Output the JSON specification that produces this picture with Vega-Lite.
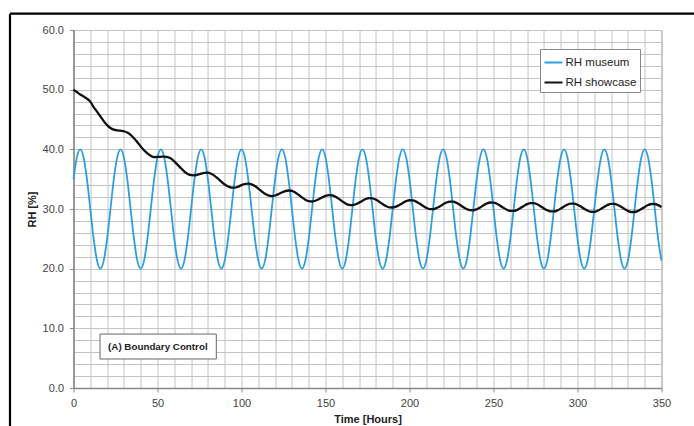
{
  "$schema": "https://vega.github.io/schema/vega-lite/v6.json",
  "width": 588,
  "height": 358,
  "autosize": {"type": "none"},
  "padding": {"left": 73.5, "top": 30, "right": 32.5, "bottom": 38},
  "background": "white",
  "config": {
    "font": "Liberation Sans",
    "view": {"stroke": "#9a9a9a", "strokeWidth": 1}
  },
  "datasets": {
    "museum": [
      {"hour":0,"rh":35},{"hour":2,"rh":38.66},{"hour":4,"rh":40},{"hour":6,"rh":38.66},{"hour":8,"rh":35},{"hour":10,"rh":30},{"hour":12,"rh":25},{"hour":14,"rh":21.34},{"hour":16,"rh":20},{"hour":18,"rh":21.34},{"hour":20,"rh":25},{"hour":22,"rh":30},
      {"hour":24,"rh":35},{"hour":26,"rh":38.66},{"hour":28,"rh":40},{"hour":30,"rh":38.66},{"hour":32,"rh":35},{"hour":34,"rh":30},{"hour":36,"rh":25},{"hour":38,"rh":21.34},{"hour":40,"rh":20},{"hour":42,"rh":21.34},{"hour":44,"rh":25},{"hour":46,"rh":30},
      {"hour":48,"rh":35},{"hour":50,"rh":38.66},{"hour":52,"rh":40},{"hour":54,"rh":38.66},{"hour":56,"rh":35},{"hour":58,"rh":30},{"hour":60,"rh":25},{"hour":62,"rh":21.34},{"hour":64,"rh":20},{"hour":66,"rh":21.34},{"hour":68,"rh":25},{"hour":70,"rh":30},
      {"hour":72,"rh":35},{"hour":74,"rh":38.66},{"hour":76,"rh":40},{"hour":78,"rh":38.66},{"hour":80,"rh":35},{"hour":82,"rh":30},{"hour":84,"rh":25},{"hour":86,"rh":21.34},{"hour":88,"rh":20},{"hour":90,"rh":21.34},{"hour":92,"rh":25},{"hour":94,"rh":30},
      {"hour":96,"rh":35},{"hour":98,"rh":38.66},{"hour":100,"rh":40},{"hour":102,"rh":38.66},{"hour":104,"rh":35},{"hour":106,"rh":30},{"hour":108,"rh":25},{"hour":110,"rh":21.34},{"hour":112,"rh":20},{"hour":114,"rh":21.34},{"hour":116,"rh":25},{"hour":118,"rh":30},
      {"hour":120,"rh":35},{"hour":122,"rh":38.66},{"hour":124,"rh":40},{"hour":126,"rh":38.66},{"hour":128,"rh":35},{"hour":130,"rh":30},{"hour":132,"rh":25},{"hour":134,"rh":21.34},{"hour":136,"rh":20},{"hour":138,"rh":21.34},{"hour":140,"rh":25},{"hour":142,"rh":30},
      {"hour":144,"rh":35},{"hour":146,"rh":38.66},{"hour":148,"rh":40},{"hour":150,"rh":38.66},{"hour":152,"rh":35},{"hour":154,"rh":30},{"hour":156,"rh":25},{"hour":158,"rh":21.34},{"hour":160,"rh":20},{"hour":162,"rh":21.34},{"hour":164,"rh":25},{"hour":166,"rh":30},
      {"hour":168,"rh":35},{"hour":170,"rh":38.66},{"hour":172,"rh":40},{"hour":174,"rh":38.66},{"hour":176,"rh":35},{"hour":178,"rh":30},{"hour":180,"rh":25},{"hour":182,"rh":21.34},{"hour":184,"rh":20},{"hour":186,"rh":21.34},{"hour":188,"rh":25},{"hour":190,"rh":30},
      {"hour":192,"rh":35},{"hour":194,"rh":38.66},{"hour":196,"rh":40},{"hour":198,"rh":38.66},{"hour":200,"rh":35},{"hour":202,"rh":30},{"hour":204,"rh":25},{"hour":206,"rh":21.34},{"hour":208,"rh":20},{"hour":210,"rh":21.34},{"hour":212,"rh":25},{"hour":214,"rh":30},
      {"hour":216,"rh":35},{"hour":218,"rh":38.66},{"hour":220,"rh":40},{"hour":222,"rh":38.66},{"hour":224,"rh":35},{"hour":226,"rh":30},{"hour":228,"rh":25},{"hour":230,"rh":21.34},{"hour":232,"rh":20},{"hour":234,"rh":21.34},{"hour":236,"rh":25},{"hour":238,"rh":30},
      {"hour":240,"rh":35},{"hour":242,"rh":38.66},{"hour":244,"rh":40},{"hour":246,"rh":38.66},{"hour":248,"rh":35},{"hour":250,"rh":30},{"hour":252,"rh":25},{"hour":254,"rh":21.34},{"hour":256,"rh":20},{"hour":258,"rh":21.34},{"hour":260,"rh":25},{"hour":262,"rh":30},
      {"hour":264,"rh":35},{"hour":266,"rh":38.66},{"hour":268,"rh":40},{"hour":270,"rh":38.66},{"hour":272,"rh":35},{"hour":274,"rh":30},{"hour":276,"rh":25},{"hour":278,"rh":21.34},{"hour":280,"rh":20},{"hour":282,"rh":21.34},{"hour":284,"rh":25},{"hour":286,"rh":30},
      {"hour":288,"rh":35},{"hour":290,"rh":38.66},{"hour":292,"rh":40},{"hour":294,"rh":38.66},{"hour":296,"rh":35},{"hour":298,"rh":30},{"hour":300,"rh":25},{"hour":302,"rh":21.34},{"hour":304,"rh":20},{"hour":306,"rh":21.34},{"hour":308,"rh":25},{"hour":310,"rh":30},
      {"hour":312,"rh":35},{"hour":314,"rh":38.66},{"hour":316,"rh":40},{"hour":318,"rh":38.66},{"hour":320,"rh":35},{"hour":322,"rh":30},{"hour":324,"rh":25},{"hour":326,"rh":21.34},{"hour":328,"rh":20},{"hour":330,"rh":21.34},{"hour":332,"rh":25},{"hour":334,"rh":30},
      {"hour":336,"rh":35},{"hour":338,"rh":38.66},{"hour":340,"rh":40},{"hour":342,"rh":38.66},{"hour":344,"rh":35},{"hour":346,"rh":30},{"hour":348,"rh":25},{"hour":350,"rh":21.34}
    ],
    "showcase": [
      {"hour":0,"rh":50.0},{"hour":2,"rh":49.6},{"hour":4,"rh":49.2},{"hour":6,"rh":48.85},{"hour":8,"rh":48.5},{"hour":10,"rh":48.0},{"hour":12,"rh":47.07},{"hour":14,"rh":46.32},{"hour":16,"rh":45.53},{"hour":18,"rh":44.72},{"hour":20,"rh":44.05},{"hour":22,"rh":43.58},
      {"hour":24,"rh":43.31},{"hour":26,"rh":43.18},{"hour":28,"rh":43.12},{"hour":30,"rh":43.03},{"hour":32,"rh":42.81},{"hour":34,"rh":42.43},{"hour":36,"rh":41.87},{"hour":38,"rh":41.2},{"hour":40,"rh":40.49},{"hour":42,"rh":39.84},{"hour":44,"rh":39.34},{"hour":46,"rh":38.92},
      {"hour":48,"rh":38.7},{"hour":50,"rh":38.72},{"hour":52,"rh":38.75},{"hour":54,"rh":38.79},{"hour":56,"rh":38.7},{"hour":58,"rh":38.45},{"hour":60,"rh":37.97},{"hour":62,"rh":37.41},{"hour":64,"rh":36.82},{"hour":66,"rh":36.28},{"hour":68,"rh":35.88},{"hour":70,"rh":35.67},
      {"hour":72,"rh":35.65},{"hour":74,"rh":35.77},{"hour":76,"rh":35.94},{"hour":78,"rh":36.07},{"hour":80,"rh":36.08},{"hour":82,"rh":35.9},{"hour":84,"rh":35.56},{"hour":86,"rh":35.08},{"hour":88,"rh":34.57},{"hour":90,"rh":34.1},{"hour":92,"rh":33.78},{"hour":94,"rh":33.59},
      {"hour":96,"rh":33.58},{"hour":98,"rh":33.76},{"hour":100,"rh":34.0},{"hour":102,"rh":34.19},{"hour":104,"rh":34.25},{"hour":106,"rh":34.14},{"hour":108,"rh":33.85},{"hour":110,"rh":33.42},{"hour":112,"rh":32.96},{"hour":114,"rh":32.54},{"hour":116,"rh":32.27},{"hour":118,"rh":32.17},
      {"hour":120,"rh":32.26},{"hour":122,"rh":32.49},{"hour":124,"rh":32.77},{"hour":126,"rh":33.0},{"hour":128,"rh":33.1},{"hour":130,"rh":33.02},{"hour":132,"rh":32.77},{"hour":134,"rh":32.38},{"hour":136,"rh":31.95},{"hour":138,"rh":31.57},{"hour":140,"rh":31.32},{"hour":142,"rh":31.26},
      {"hour":144,"rh":31.38},{"hour":146,"rh":31.64},{"hour":148,"rh":31.94},{"hour":150,"rh":32.2},{"hour":152,"rh":32.33},{"hour":154,"rh":32.28},{"hour":156,"rh":32.05},{"hour":158,"rh":31.69},{"hour":160,"rh":31.28},{"hour":162,"rh":30.92},{"hour":164,"rh":30.69},{"hour":166,"rh":30.65},
      {"hour":168,"rh":30.79},{"hour":170,"rh":31.07},{"hour":172,"rh":31.39},{"hour":174,"rh":31.67},{"hour":176,"rh":31.81},{"hour":178,"rh":31.78},{"hour":180,"rh":31.57},{"hour":182,"rh":31.22},{"hour":184,"rh":30.83},{"hour":186,"rh":30.48},{"hour":188,"rh":30.27},{"hour":190,"rh":30.25},
      {"hour":192,"rh":30.4},{"hour":194,"rh":30.69},{"hour":196,"rh":31.02},{"hour":198,"rh":31.31},{"hour":200,"rh":31.47},{"hour":202,"rh":31.45},{"hour":204,"rh":31.24},{"hour":206,"rh":30.91},{"hour":208,"rh":30.53},{"hour":210,"rh":30.19},{"hour":212,"rh":29.99},{"hour":214,"rh":29.97},
      {"hour":216,"rh":30.14},{"hour":218,"rh":30.43},{"hour":220,"rh":30.78},{"hour":222,"rh":31.08},{"hour":224,"rh":31.24},{"hour":226,"rh":31.23},{"hour":228,"rh":31.03},{"hour":230,"rh":30.7},{"hour":232,"rh":30.33},{"hour":234,"rh":30.0},{"hour":236,"rh":29.8},{"hour":238,"rh":29.79},
      {"hour":240,"rh":29.96},{"hour":242,"rh":30.26},{"hour":244,"rh":30.61},{"hour":246,"rh":30.92},{"hour":248,"rh":31.09},{"hour":250,"rh":31.08},{"hour":252,"rh":30.89},{"hour":254,"rh":30.56},{"hour":256,"rh":30.19},{"hour":258,"rh":29.87},{"hour":260,"rh":29.68},{"hour":262,"rh":29.67},
      {"hour":264,"rh":29.84},{"hour":266,"rh":30.15},{"hour":268,"rh":30.5},{"hour":270,"rh":30.81},{"hour":272,"rh":30.98},{"hour":274,"rh":30.98},{"hour":276,"rh":30.79},{"hour":278,"rh":30.47},{"hour":280,"rh":30.1},{"hour":282,"rh":29.78},{"hour":284,"rh":29.59},{"hour":286,"rh":29.59},
      {"hour":288,"rh":29.76},{"hour":290,"rh":30.07},{"hour":292,"rh":30.43},{"hour":294,"rh":30.74},{"hour":296,"rh":30.91},{"hour":298,"rh":30.91},{"hour":300,"rh":30.72},{"hour":302,"rh":30.41},{"hour":304,"rh":30.04},{"hour":306,"rh":29.72},{"hour":308,"rh":29.54},{"hour":310,"rh":29.53},
      {"hour":312,"rh":29.71},{"hour":314,"rh":30.02},{"hour":316,"rh":30.38},{"hour":318,"rh":30.69},{"hour":320,"rh":30.87},{"hour":322,"rh":30.87},{"hour":324,"rh":30.68},{"hour":326,"rh":30.37},{"hour":328,"rh":30.0},{"hour":330,"rh":29.68},{"hour":332,"rh":29.5},{"hour":334,"rh":29.5},
      {"hour":336,"rh":29.68},{"hour":338,"rh":29.99},{"hour":340,"rh":30.35},{"hour":342,"rh":30.66},{"hour":344,"rh":30.84},{"hour":346,"rh":30.84},{"hour":348,"rh":30.65},{"hour":350,"rh":30.34}
    ]
  },
  "layer": [
    {
      "data": {"name": "museum"},
      "mark": {"type": "line", "interpolate": "monotone", "strokeWidth": 1.8},
      "encoding": {
        "x": {
          "field": "hour", "type": "quantitative",
          "scale": {"domain": [0, 350], "nice": false, "zero": false},
          "axis": {
            "values": [0,10,20,30,40,50,60,70,80,90,100,110,120,130,140,150,160,170,180,190,200,210,220,230,240,250,260,270,280,290,300,310,320,330,340,350],
            "tickCount": 200,
            "labelExpr": "datum.value % 50 === 0 ? datum.label : ''",
            "title": "Time [Hours]",
            "grid": true, "gridColor": "#c4c4c4", "gridWidth": 1,
            "tickSize": 4, "tickColor": "#888",
            "tickOpacity": {"condition": {"test": "datum.value % 50 === 0", "value": 1}, "value": 0},
            "domainColor": "#888", "domainWidth": 1.5,
            "labelFontSize": 11, "labelColor": "#444", "labelPadding": 5,
            "labelFlush": false, "labelOverlap": false,
            "titleFontSize": 11, "titleFontWeight": "bold", "titleColor": "#222", "titlePadding": 5
          }
        },
        "y": {
          "field": "rh", "type": "quantitative",
          "scale": {"domain": [0, 60], "nice": false},
          "axis": {
            "values": [0,2,4,6,8,10,12,14,16,18,20,22,24,26,28,30,32,34,36,38,40,42,44,46,48,50,52,54,56,58,60],
            "tickCount": 200,
            "format": ".1f",
            "labelExpr": "datum.value % 10 === 0 ? datum.label : ''",
            "title": "RH [%]",
            "grid": true, "gridColor": "#c4c4c4", "gridWidth": 1,
            "tickSize": 4, "tickColor": "#888",
            "tickOpacity": {"condition": {"test": "datum.value % 10 === 0", "value": 1}, "value": 0},
            "domainColor": "#888", "domainWidth": 1.5,
            "labelFontSize": 11, "labelColor": "#444", "labelPadding": 6,
            "labelOverlap": false,
            "titleFontSize": 11, "titleFontWeight": "bold", "titleColor": "#222", "titlePadding": 5
          }
        },
        "color": {
          "datum": "RH museum",
          "type": "nominal",
          "scale": {"domain": ["RH museum", "RH showcase"], "range": ["#2c9fdf", "#111111"]},
          "legend": {
            "orient": "none", "legendX": 466.5, "legendY": 19,
            "title": null,
            "fillColor": "white", "strokeColor": "#888",
            "padding": 3.5,
            "symbolType": "stroke", "symbolSize": 324, "symbolStrokeWidth": 2,
            "labelFontSize": 11.5, "labelColor": "#222", "labelOffset": 2,
            "rowPadding": 4
          }
        }
      }
    },
    {
      "data": {"name": "showcase"},
      "mark": {"type": "line", "interpolate": "monotone", "strokeWidth": 2.3},
      "encoding": {
        "x": {"field": "hour", "type": "quantitative", "scale": {"domain": [0, 350], "nice": false, "zero": false}},
        "y": {"field": "rh", "type": "quantitative", "scale": {"domain": [0, 60], "nice": false}},
        "color": {"datum": "RH showcase", "type": "nominal"}
      }
    },
    {
      "data": {"values": [{}]},
      "mark": {"type": "rect", "fill": "white", "stroke": "#666", "strokeWidth": 1},
      "encoding": {
        "x": {"datum": 15.8, "type": "quantitative", "scale": {"domain": [0, 350], "nice": false, "zero": false}},
        "x2": {"datum": 85.0},
        "y": {"datum": 9.04, "type": "quantitative", "scale": {"domain": [0, 60], "nice": false}},
        "y2": {"datum": 4.86}
      }
    },
    {
      "data": {"values": [{}]},
      "mark": {"type": "text", "text": "(A) Boundary Control", "fontWeight": "bold", "fontSize": 9.8, "color": "#222", "align": "center", "baseline": "middle"},
      "encoding": {
        "x": {"datum": 50.2, "type": "quantitative", "scale": {"domain": [0, 350], "nice": false, "zero": false}},
        "y": {"datum": 6.8, "type": "quantitative", "scale": {"domain": [0, 60], "nice": false}}
      }
    },
    {
      "data": {"values": [{}]},
      "mark": {"type": "rule", "color": "black", "strokeWidth": 2.2},
      "encoding": {
        "x": {"datum": -37.8, "type": "quantitative", "scale": {"domain": [0, 350], "nice": false, "zero": false}},
        "y": {"datum": 62.73, "type": "quantitative", "scale": {"domain": [0, 60], "nice": false}},
        "y2": {"datum": -8}
      }
    },
    {
      "data": {"values": [{}]},
      "mark": {"type": "rule", "color": "black", "strokeWidth": 2.2},
      "encoding": {
        "x": {"datum": -37.8, "type": "quantitative", "scale": {"domain": [0, 350], "nice": false, "zero": false}},
        "x2": {"datum": 380},
        "y": {"datum": 62.73, "type": "quantitative", "scale": {"domain": [0, 60], "nice": false}}
      }
    }
  ]
}
